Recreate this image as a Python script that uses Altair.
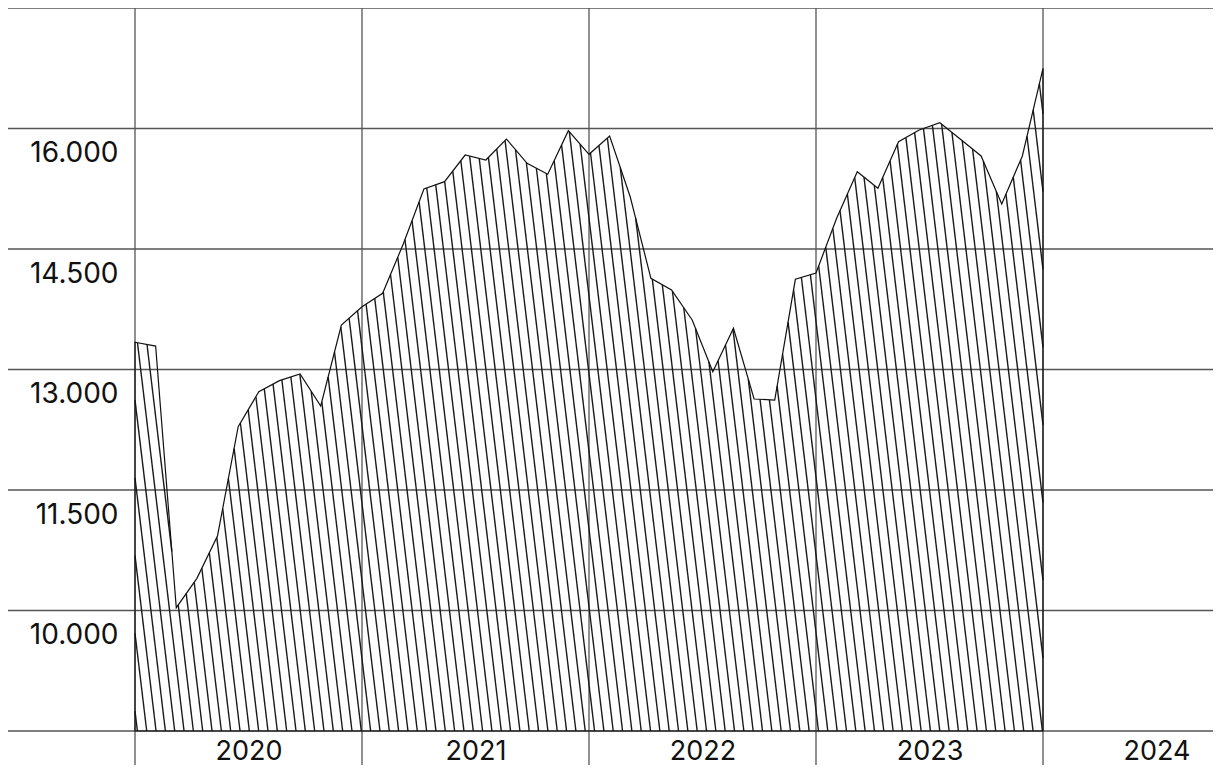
import altair as alt
import numpy as np
import pandas as pd

# ---- data ----
start_year = 2020
points_per_year = 11
values = [13339, 13292, 10035, 10400, 10931, 12288, 12724, 12861, 12944, 12546,
          13554, 13782, 13949, 14562, 15247, 15338, 15670, 15608, 15869, 15567,
          15430, 15973, 15679, 15907, 15147, 14135, 13990, 13616, 12973, 13513,
          12633, 12620, 14123, 14201, 14882, 15462, 15256, 15836, 15981, 16072,
          15866, 15658, 15060, 15658, 16749]
year_ticks = [2020, 2021, 2022, 2023, 2024]
value_ticks = [10000, 11500, 13000, 14500, 16000]
grid_values = [8500, 10000, 11500, 13000, 14500, 16000, 17500]

# ---- layout ----
PAD_L, PAD_B = 127, 34
W, H = 1078, 723
PX_PER_YEAR = 227
Y_MIN, Y_MAX = 8500, 17500
X_MIN = start_year
X_MAX = start_year + W / PX_PER_YEAR

t = [start_year + i / points_per_year for i in range(len(values))]
df = pd.DataFrame({"t": t, "v": values, "base": Y_MIN})

# ---- hatch texture derived from the series ----
Xk = (np.array(t) - X_MIN) * PX_PER_YEAR
Hk = (np.array(values) - Y_MIN) * H / (Y_MAX - Y_MIN)
slope, gap, phase = 0.12, 9.33, 2.4
hmax = Hk.max() + 2
hs = np.linspace(0, hmax, 6000)
segs = []
b = phase
while b <= Xk[-1] + slope * hmax + gap:
    xs = b - slope * hs
    inside = (xs >= Xk[0]) & (xs <= Xk[-1]) & (hs <= np.interp(xs, Xk, Hk))
    idx = np.flatnonzero(inside)
    if idx.size:
        runs = np.split(idx, np.flatnonzero(np.diff(idx) > 1) + 1)
        for r in runs:
            h0, h1 = hs[r[0]], hs[r[-1]]
            if h1 - h0 < 0.5:
                continue
            segs.append({
                "x1": X_MIN + (b - slope * h0) / PX_PER_YEAR,
                "y1": Y_MIN + h0 * (Y_MAX - Y_MIN) / H,
                "x2": X_MIN + (b - slope * h1) / PX_PER_YEAR,
                "y2": Y_MIN + h1 * (Y_MAX - Y_MIN) / H,
            })
    b += gap
hatch_df = pd.DataFrame(segs)

FONT = "Inter"
xscale = alt.Scale(domain=[X_MIN, X_MAX], nice=False, zero=False)
yscale = alt.Scale(domain=[Y_MIN, Y_MAX], nice=False, zero=False)

x_axis = alt.Axis(values=year_ticks, format="d", grid=False, ticks=False, domain=False,
                  title=None, labelFont=FONT, labelFontSize=27, labelColor="#111",
                  labelPadding=7, labelOffset=113.5, labelFlush=False,
                  labelOverlap=False, labelBound=False)
y_axis = alt.Axis(values=value_ticks, grid=False, ticks=False, domain=False, title=None,
                  labelFont=FONT, labelFontSize=28, labelColor="#111", labelPadding=17,
                  labelOffset=25, labelFlush=False, labelOverlap=False,
                  labelExpr="replace(format(datum.value, ','), ',', '.')")

hgrid = alt.Chart(pd.DataFrame({"g": grid_values})).mark_rule(
    color="#555", strokeWidth=1.3).encode(
    y=alt.Y("g:Q", scale=yscale, axis=y_axis),
    x=alt.value(-PAD_L), x2=alt.value(W))

vgrid = alt.Chart(pd.DataFrame({"yr": year_ticks})).mark_rule(
    color="#555", strokeWidth=1.3).encode(
    x=alt.X("yr:Q", scale=xscale, axis=x_axis),
    y=alt.value(0), y2=alt.value(H + PAD_B))

hatch = alt.Chart(hatch_df).mark_rule(color="#1a1a1a", strokeWidth=1.4).encode(
    x=alt.X("x1:Q", scale=xscale), y=alt.Y("y1:Q", scale=yscale),
    x2="x2:Q", y2="y2:Q")

area = alt.Chart(df).mark_area(fillOpacity=0, stroke="#111", strokeWidth=1.2).encode(
    x=alt.X("t:Q", scale=xscale), y=alt.Y("v:Q", scale=yscale), y2="base:Q")

chart = alt.layer(hgrid, vgrid, hatch, area).properties(
    width=W, height=H,
    autosize=alt.AutoSizeParams(type="none"),
    padding={"left": PAD_L, "top": 0, "right": 0, "bottom": PAD_B},
    background="white",
).configure_view(stroke=None)

chart.save("out.html", embed_options={"renderer": "svg", "actions": False})
